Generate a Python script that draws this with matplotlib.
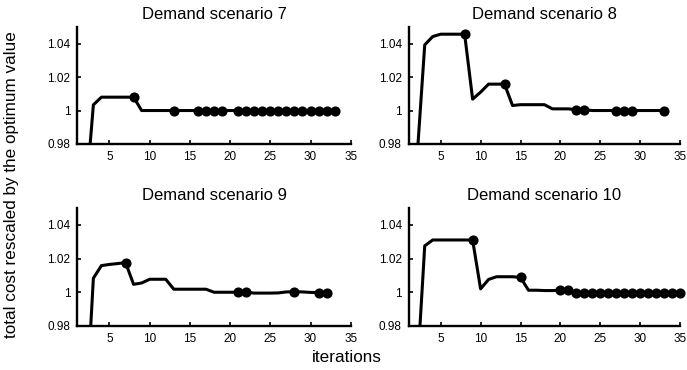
import numpy as np
import matplotlib
matplotlib.use("Agg")
import matplotlib.pyplot as plt

plt.rcParams['font.family'] = ['Liberation Sans', 'DejaVu Sans']

# total cost / optimum per iteration (iterations start at 2)
iters_7 = list(range(2, 34))
cost_7 = [0.945, 1.0034, 1.008, 1.008, 1.008, 1.008, 1.008] + [1.0] * 25
marks_7 = [8, 13, 16, 17, 18, 19] + list(range(21, 34))

iters_8 = list(range(2, 34))
cost_8 = [0.969, 1.0393, 1.0443, 1.0457, 1.0457, 1.0457, 1.0457, 1.0068,
          1.011, 1.0158, 1.0158, 1.0158, 1.003, 1.0035, 1.0035, 1.0035,
          1.0035, 1.001, 1.001, 1.001, 1.0005, 1.0005] + [1.0] * 10
marks_8 = [8, 13, 22, 23, 27, 28, 29, 33]

iters_9 = list(range(2, 33))
cost_9 = [0.922, 1.0083, 1.0158, 1.0165, 1.017, 1.0176, 1.0047, 1.0055,
          1.0077, 1.0077, 1.0077, 1.0018, 1.0018, 1.0018, 1.0018, 1.0018,
          1.0, 1.0, 1.0, 1.0, 1.0, 0.9995, 0.9995, 0.9995, 0.9996, 1.0002,
          1.0003, 1.0002, 0.9999, 0.9998, 0.9998]
marks_9 = [7, 21, 22, 28, 31, 32]

iters_10 = list(range(2, 36))
cost_10 = [0.948, 1.0275, 1.031, 1.031, 1.031, 1.031, 1.031, 1.031, 1.002,
           1.0076, 1.0092, 1.0092, 1.0092, 1.0088, 1.0012, 1.0012, 1.001,
           1.001, 1.0012, 1.0012] + [0.9997] * 14
marks_10 = [9, 15, 20, 21] + list(range(22, 36))

titles = ["Demand scenario 7", "Demand scenario 8",
          "Demand scenario 9", "Demand scenario 10"]
series = [(iters_7, cost_7, marks_7), (iters_8, cost_8, marks_8),
          (iters_9, cost_9, marks_9), (iters_10, cost_10, marks_10)]

x_ticks = [5, 10, 15, 20, 25, 30, 35]
y_ticks = [0.98, 1.0, 1.02, 1.04]
y_tick_labels = ["0.98", "1", "1.02", "1.04"]

fig = plt.figure(figsize=(6.87, 3.70), dpi=100)
boxes = [[0.1125, 0.611, 0.398, 0.316], [0.595, 0.611, 0.395, 0.316],
         [0.1125, 0.119, 0.398, 0.319], [0.595, 0.119, 0.395, 0.319]]

for box, title, (it, cost, marks) in zip(boxes, titles, series):
    ax = fig.add_axes(box)
    it = np.array(it)
    cost = np.array(cost)
    ax.plot(it, cost, color='black', lw=2.2, solid_joinstyle='round')
    sel = np.isin(it, marks)
    ax.plot(it[sel], cost[sel], 'o', color='black', ms=6.3, clip_on=False)
    ax.set_xlim(1, 35)
    ax.set_ylim(0.98, 1.05)
    ax.set_xticks(x_ticks)
    ax.set_yticks(y_ticks)
    ax.set_yticklabels(y_tick_labels)
    for side in ['top', 'right']:
        ax.spines[side].set_visible(False)
    for side in ['left', 'bottom']:
        ax.spines[side].set_linewidth(1.7)
    ax.tick_params(direction='in', length=3, width=1.2, labelsize=8.5, pad=5)
    ax.set_title(title, fontsize=12, pad=6)

fig.text(0.017, 0.5, "total cost rescaled by the optimum value",
         rotation=90, ha='center', va='center', fontsize=12.3)
fig.text(0.505, 0.035, "iterations", ha='center', va='center', fontsize=12.3)

fig.savefig("out.png", dpi=100)
